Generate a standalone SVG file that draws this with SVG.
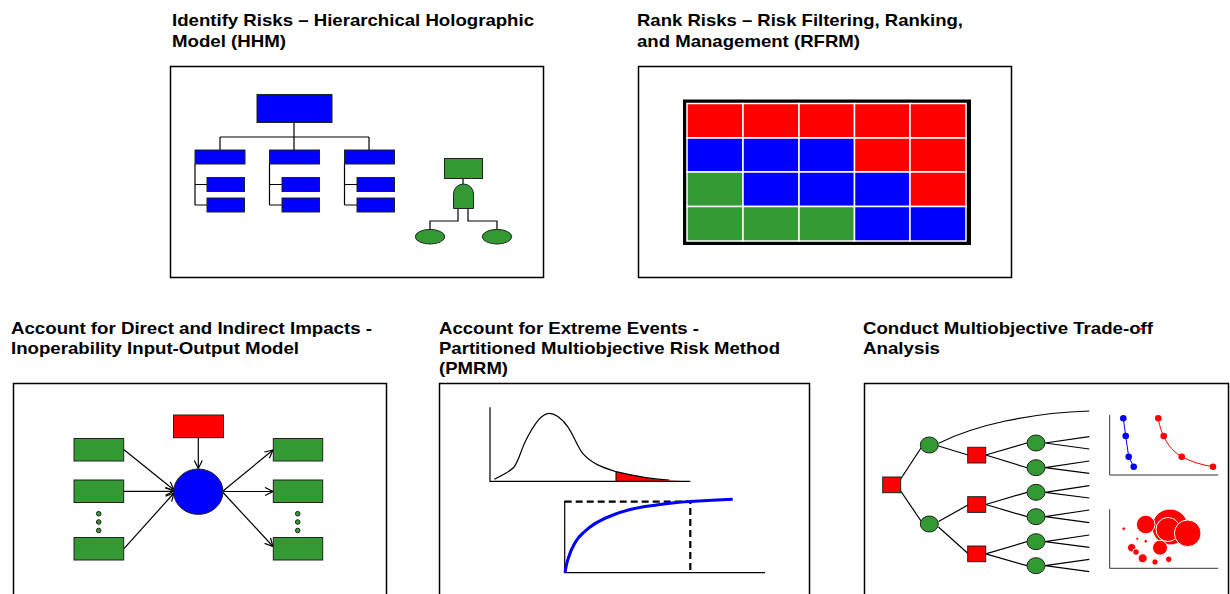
<svg xmlns="http://www.w3.org/2000/svg" width="1230" height="594" viewBox="0 0 1230 594">
<defs>
<style>
.t{font-family:"Liberation Sans",Arial,sans-serif;font-weight:bold;font-size:17px;fill:#000}
.frame{fill:#fff;stroke:#000;stroke-width:1.5}
.b{fill:#0000ff;stroke:#222;stroke-width:1}
.g{fill:#339933;stroke:#222;stroke-width:1}
.r{fill:#ff0000;stroke:#222;stroke-width:1}
.ln{stroke:#000;stroke-width:1.2;fill:none}
.cr{fill:#ff0000;stroke:#fff;stroke-width:1}
.cell{stroke:#fff;stroke-width:1.5}
</style>
<marker id="ah" markerWidth="10" markerHeight="10" refX="9" refY="5" orient="auto" markerUnits="userSpaceOnUse">
<path d="M1,1 L9,5 L1,9" fill="none" stroke="#000" stroke-width="1.2"/>
</marker>
</defs>
<rect width="1230" height="594" fill="#fff"/>

<!-- Titles -->
<g id="titles">
<text class="t" x="172" y="26" textLength="362" lengthAdjust="spacingAndGlyphs">Identify Risks – Hierarchical Holographic</text>
<text class="t" x="172" y="47" textLength="114" lengthAdjust="spacingAndGlyphs">Model (HHM)</text>
<text class="t" x="637" y="26" textLength="326" lengthAdjust="spacingAndGlyphs">Rank Risks – Risk Filtering, Ranking,</text>
<text class="t" x="637" y="47" textLength="223" lengthAdjust="spacingAndGlyphs">and Management (RFRM)</text>
<text class="t" x="11" y="334" textLength="361" lengthAdjust="spacingAndGlyphs">Account for Direct and Indirect Impacts -</text>
<text class="t" x="11" y="354" textLength="288" lengthAdjust="spacingAndGlyphs">Inoperability Input-Output Model</text>
<text class="t" x="439" y="334" textLength="260" lengthAdjust="spacingAndGlyphs">Account for Extreme Events -</text>
<text class="t" x="439" y="354" textLength="341" lengthAdjust="spacingAndGlyphs">Partitioned Multiobjective Risk Method</text>
<text class="t" x="439" y="374" textLength="69" lengthAdjust="spacingAndGlyphs">(PMRM)</text>
<text class="t" x="863" y="334" textLength="290" lengthAdjust="spacingAndGlyphs">Conduct Multiobjective Trade-off</text>
<text class="t" x="863" y="354" textLength="77" lengthAdjust="spacingAndGlyphs">Analysis</text>
<line x1="1138" y1="329" x2="1143" y2="329" stroke="#ff0000" stroke-width="1.5"/>
</g>

<!-- Panel 1: HHM -->
<g id="panel-hhm">
<rect class="frame" x="170.5" y="66.5" width="373" height="211"/>
<g id="hhm-connectors" class="ln">
<path d="M294,123 V137 M220,137 H369 M220,137 V150 M294,137 V150 M369,137 V150"/>
<path d="M195,164 V205 M195,184.5 H207 M195,205 H207"/>
<path d="M269.5,164 V205 M269.5,184.5 H282 M269.5,205 H282"/>
<path d="M344.5,164 V205 M344.5,184.5 H357 M344.5,205 H357"/>
<path d="M463,178 V185 M458,208 V221 H430 V229 M468,208 V221 H497 V229"/>
</g>
<rect class="b" x="257" y="94.5" width="75" height="28"/>
<rect class="b" x="195" y="150" width="50" height="14"/>
<rect class="b" x="269.5" y="150" width="50" height="14"/>
<rect class="b" x="344.5" y="150" width="50" height="14"/>
<rect class="b" x="207" y="177.5" width="37.5" height="14"/>
<rect class="b" x="207" y="198" width="37.5" height="14"/>
<rect class="b" x="282" y="177.5" width="37.5" height="14"/>
<rect class="b" x="282" y="198" width="37.5" height="14"/>
<rect class="b" x="357" y="177.5" width="37.5" height="14"/>
<rect class="b" x="357" y="198" width="37.5" height="14"/>
<rect class="g" x="444.5" y="158.5" width="38" height="20"/>
<path class="g" d="M453.5,208.5 V194 A10,10 0 0 1 473.5,194 V208.5 Z"/>
<ellipse class="g" cx="430" cy="236.7" rx="14.7" ry="7.3"/>
<ellipse class="g" cx="497" cy="236.7" rx="14.7" ry="7.3"/>
</g>

<!-- Panel 2: RFRM -->
<g id="panel-rfrm">
<rect class="frame" x="638.5" y="66.5" width="373" height="211"/>
<rect x="683" y="99.5" width="288" height="145.5" fill="#000"/>
<g class="cell">
<rect x="687" y="103.5" width="56" height="34.5" fill="#ff0000"/>
<rect x="743" y="103.5" width="56" height="34.5" fill="#ff0000"/>
<rect x="799" y="103.5" width="55.5" height="34.5" fill="#ff0000"/>
<rect x="854.5" y="103.5" width="55.5" height="34.5" fill="#ff0000"/>
<rect x="910" y="103.5" width="56" height="34.5" fill="#ff0000"/>
<rect x="687" y="138" width="56" height="34" fill="#0000ff"/>
<rect x="743" y="138" width="56" height="34" fill="#0000ff"/>
<rect x="799" y="138" width="55.5" height="34" fill="#0000ff"/>
<rect x="854.5" y="138" width="55.5" height="34" fill="#ff0000"/>
<rect x="910" y="138" width="56" height="34" fill="#ff0000"/>
<rect x="687" y="172" width="56" height="34.5" fill="#339933"/>
<rect x="743" y="172" width="56" height="34.5" fill="#0000ff"/>
<rect x="799" y="172" width="55.5" height="34.5" fill="#0000ff"/>
<rect x="854.5" y="172" width="55.5" height="34.5" fill="#0000ff"/>
<rect x="910" y="172" width="56" height="34.5" fill="#ff0000"/>
<rect x="687" y="206.5" width="56" height="34.5" fill="#339933"/>
<rect x="743" y="206.5" width="56" height="34.5" fill="#339933"/>
<rect x="799" y="206.5" width="55.5" height="34.5" fill="#339933"/>
<rect x="854.5" y="206.5" width="55.5" height="34.5" fill="#0000ff"/>
<rect x="910" y="206.5" width="56" height="34.5" fill="#0000ff"/>
</g>
</g>

<!-- Panel 3: IIM -->
<g id="panel-iim">
<rect class="frame" x="13.5" y="383.5" width="373" height="240"/>
<g id="iim-connectors" class="ln" marker-end="url(#ah)">
<line x1="124" y1="449.7" x2="174" y2="490"/>
<line x1="124" y1="491.3" x2="173.5" y2="491.3"/>
<line x1="124" y1="548.7" x2="174" y2="493"/>
<line x1="198.3" y1="438" x2="198.3" y2="468.5"/>
<line x1="223" y1="491" x2="273" y2="450"/>
<line x1="223.5" y1="491.5" x2="273" y2="491.5"/>
<line x1="223" y1="492.5" x2="273" y2="546.5"/>
</g>
<rect class="r" x="173.5" y="415" width="50" height="22.7"/>
<ellipse class="b" cx="198.3" cy="491.7" rx="24.7" ry="22.7"/>
<rect class="g" x="74" y="438.5" width="49.7" height="22.5"/>
<rect class="g" x="74" y="480" width="49.7" height="22.5"/>
<rect class="g" x="74" y="537.5" width="49.7" height="22.5"/>
<rect class="g" x="273.3" y="438.5" width="49.4" height="22.5"/>
<rect class="g" x="273.3" y="480" width="49.4" height="22.5"/>
<rect class="g" x="273.3" y="537.5" width="49.4" height="22.5"/>
<g class="g" stroke-width="0.8">
<circle cx="98.7" cy="513.7" r="2.3"/><circle cx="98.7" cy="522" r="2.3"/><circle cx="98.7" cy="530.5" r="2.3"/>
<circle cx="297.7" cy="513.7" r="2.3"/><circle cx="297.7" cy="522" r="2.3"/><circle cx="297.7" cy="530.5" r="2.3"/>
</g>
</g>

<!-- Panel 4: PMRM -->
<g id="panel-pmrm">
<rect class="frame" x="439.5" y="383.5" width="370" height="240"/>
<path d="M616,471.7 C635,476 650,479 669.3,480.5 L690,481.3 L616,481.3 Z" fill="#ff0000"/>
<line x1="616" y1="471.7" x2="616" y2="481.3" stroke="#000" stroke-width="1"/>
<path class="ln" stroke-width="1" d="M490,407.3 V481.3 H690.3"/>
<path class="ln" stroke-width="1" d="M494.3,479.3 C505,474 512,470 514.3,466.7 C519,460 521,450 526,440 C533,426 541,413 549.3,413.3 C557,413.5 563,420 567.7,426.7 C574,436 578,448 582.7,453.3 C592,464 604,468 616,471.7 C638,477 655,479.5 669.3,480"/>
<path class="ln" stroke-width="1" d="M564.7,500.7 V572.7 H765"/>
<path d="M564.7,501.7 H690.3 V572.7" fill="none" stroke="#000" stroke-width="2.2" stroke-dasharray="7,4"/>
<path d="M565,572.7 C566,566 567,562 568,559 C572,546 577,538 583,533 C592,524 602,519 613,515 C628,509 640,507 653,505.5 C668,503.5 678,502 690.3,501.5 C705,500.5 718,499.8 732.7,499.3" fill="none" stroke="#0000ff" stroke-width="3"/>
</g>

<!-- Panel 5: Trade-off -->
<g id="panel-tradeoff">
<rect class="frame" x="864.5" y="383.5" width="364" height="240"/>
<g id="tree-connectors" class="ln" stroke-width="1">
<line x1="900" y1="480" x2="921" y2="448"/>
<line x1="900" y1="490" x2="921" y2="521"/>
<path d="M938.7,443.3 C975,425 1030,413 1089.3,411"/>
<line x1="938.5" y1="446" x2="968" y2="455"/>
<line x1="938.5" y1="521.5" x2="968" y2="505"/>
<line x1="938.5" y1="527" x2="968" y2="553.5"/>
<line x1="985.7" y1="455" x2="1027" y2="443"/>
<line x1="985.7" y1="455" x2="1027" y2="467.7"/>
<line x1="985.7" y1="504.5" x2="1027" y2="492.3"/>
<line x1="985.7" y1="504.5" x2="1027" y2="516.7"/>
<line x1="985.7" y1="553.8" x2="1027" y2="541.7"/>
<line x1="985.7" y1="553.8" x2="1027" y2="565.7"/>
<path d="M1045,443 L1089.3,436.7 M1045,443 L1089.3,449"/>
<path d="M1045,467.7 L1089.3,461 M1045,467.7 L1089.3,473.3"/>
<path d="M1045,492.3 L1089.3,485.7 M1045,492.3 L1089.3,498"/>
<path d="M1045,516.7 L1089.3,510 M1045,516.7 L1089.3,522.7"/>
<path d="M1045,541.7 L1089.3,535 M1045,541.7 L1089.3,547.3"/>
<path d="M1045,565.7 L1089.3,559.3 M1045,565.7 L1089.3,571.7"/>
</g>
<rect class="r" x="882.7" y="477" width="18" height="15.7"/>
<ellipse class="g" cx="929.3" cy="445" rx="9" ry="8"/>
<ellipse class="g" cx="929.3" cy="524" rx="9" ry="8"/>
<rect class="r" x="967.7" y="447.3" width="18" height="15.7"/>
<rect class="r" x="967.7" y="496.7" width="18" height="15.7"/>
<rect class="r" x="967.7" y="546" width="18" height="15.7"/>
<ellipse class="g" cx="1036" cy="443" rx="9" ry="8"/>
<ellipse class="g" cx="1036" cy="467.7" rx="9" ry="8"/>
<ellipse class="g" cx="1036" cy="492.3" rx="9" ry="8"/>
<ellipse class="g" cx="1036" cy="516.7" rx="9" ry="8"/>
<ellipse class="g" cx="1036" cy="541.7" rx="9" ry="8"/>
<ellipse class="g" cx="1036" cy="565.7" rx="9" ry="8"/>
<path d="M1109.7,415 V475 H1218.3" fill="none" stroke="#333" stroke-width="1"/>
<path d="M1123.3,418.3 L1125.7,436 L1128.7,456.7 L1133.7,466.7" fill="none" stroke="#0000ff" stroke-width="1"/>
<g fill="#0000ff"><circle cx="1123.3" cy="418.3" r="3.3"/><circle cx="1125.7" cy="436" r="3.3"/><circle cx="1128.7" cy="456.7" r="3.3"/><circle cx="1133.7" cy="466.7" r="3.3"/></g>
<path d="M1158.3,418.3 C1160,428 1162,433 1163.7,436 C1168,446 1174,452 1181.7,456.7 C1192,462 1202,465 1213,466.7" fill="none" stroke="#ff0000" stroke-width="1"/>
<g fill="#ff0000"><circle cx="1158.3" cy="418.3" r="3.3"/><circle cx="1163.7" cy="436" r="3.3"/><circle cx="1181.7" cy="456.7" r="3.3"/><circle cx="1213" cy="466.7" r="3.3"/></g>
<path d="M1109.7,509.3 V568.3 H1218.3" fill="none" stroke="#333" stroke-width="1"/>
<circle class="cr" cx="1170" cy="527" r="18"/>
<circle class="cr" cx="1168" cy="529.5" r="12"/>
<circle class="cr" cx="1145.7" cy="524.5" r="9.3"/>
<circle class="cr" cx="1187.7" cy="533.3" r="13.3"/>
<circle class="cr" cx="1160" cy="547.7" r="7.5"/>
<circle class="cr" cx="1123.7" cy="528.7" r="1.8"/>
<circle class="cr" cx="1137.3" cy="538.7" r="1.5"/>
<circle class="cr" cx="1145.7" cy="541.3" r="1.8"/>
<circle class="cr" cx="1131.7" cy="547.7" r="4.2"/>
<circle class="cr" cx="1136" cy="552" r="3.3"/>
<circle class="cr" cx="1142.7" cy="558.3" r="4.5"/>
<circle class="cr" cx="1155" cy="562" r="3.2"/>
<circle class="cr" cx="1168.7" cy="559.3" r="3.2"/>
</g>
</svg>
